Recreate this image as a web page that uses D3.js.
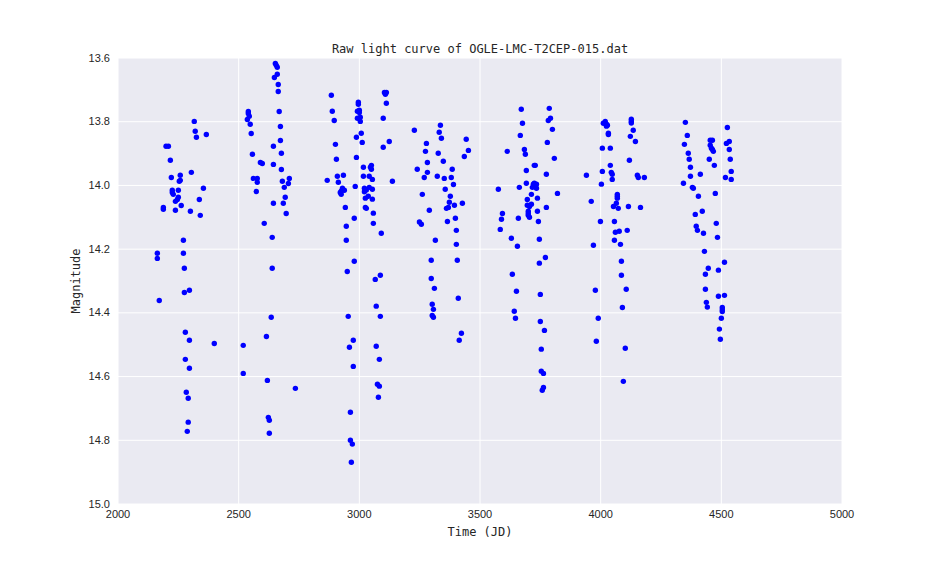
<!DOCTYPE html>
<html>
<head>
<meta charset="utf-8">
<script src="https://cdnjs.cloudflare.com/ajax/libs/d3/7.8.5/d3.min.js"></script>
<style>
  html, body { margin: 0; padding: 0; background: #fff; }
  svg { display: block; }
  .domain { display: none; }
  .tick text { font-family: "Liberation Sans", sans-serif; font-size: 11px; fill: #262626; }
  .label { font-family: "DejaVu Sans Mono", monospace; font-size: 12px; fill: #262626; }
</style>
</head>
<body>
<svg></svg>
<script>
var xTicks = [2000, 2500, 3000, 3500, 4000, 4500, 5000];
var yTicks = [13.6, 13.8, 14.0, 14.2, 14.4, 14.6, 14.8, 15.0];

// one season per line pair
var jd = [
  2316,2320,2366,2325,2199,2209,2217,2304,2258,2221,2258,2254,2354,2225,2250,2225,2229,2250,2246,2337,2238,2262,2188,2188,2238,2300,2341,
  2271,2163,2271,2163,2275,2296,2275,2171,2279,2296,2399,2279,2296,2283,2291,2291,2287,
  2540,2540,2544,2536,2548,2552,2557,2590,2598,2561,2577,2577,2573,2606,2519,2519,
  2668,2673,2673,2644,2677,2644,2677,2710,2681,2706,2689,2693,2644,2685,2697,2639,2639,2635,2615,2619,2735,2623,2627,2627,
  2652,2656,2660,2660,2648,2664,2664,
  2884,2888,2896,2901,2905,2934,2909,2867,2913,2930,2938,2925,2921,2925,2942,2946,2946,2979,2950,2954,2975,2959,2975,2963,2963,2971,2967,
  2996,2996,2992,3000,3000,2992,3004,3004,3008,2988,3012,2988,3017,3050,3046,3050,3017,3041,3054,2983,3021,3029,3041,3054,3021,3037,3025,3054,3025,3029,3058,2979,3058,3091,
  3104,3112,3108,3112,3099,3124,3099,3137,3087,3066,3070,3087,3070,3083,3075,3083,3079,
  3336,3331,3228,3340,3443,3452,3435,3278,3274,3327,3282,3348,3240,3385,3282,3269,3323,3352,3381,3390,3356,3261,3377,3373,3394,3427,3361,3369,3290,3398,3365,3249,3257,3402,3315,3402,
  3298,3406,3298,3311,3410,3302,3307,3302,3307,3423,3414,
  3671,3787,3676,3783,3792,3800,3667,3779,3613,3684,3688,3808,3725,3729,3692,3775,3692,3725,3734,3721,3717,3725,3734,3663,3576,3821,3713,3696,3738,3775,3696,3713,3705,3738,3700,3700,3705,3700,
  3593,3589,3659,3742,3584,3746,3630,3655,3771,3746,3634,3651,3750,3642,3647,3750,3767,3754,3754,3763,3763,3758,
  4011,4019,4024,4028,4024,4032,4032,4127,4127,4127,4135,4123,4144,4007,4040,4119,4040,4007,4044,4048,4048,3941,4152,4156,4181,4003,4069,4069,4069,4065,3961,4053,4073,4115,4165,
  3999,4057,4061,4077,4110,4057,4082,3970,4086,4086,3978,4106,4090,3990,3982,4102,4094,
  4351,4525,4359,4454,4463,4521,4533,4347,4454,4459,4463,4467,4533,4363,4367,4450,4537,4471,4372,4541,4372,4413,4517,4541,4343,4380,4384,4475,4405,4421,4392,4479,4396,4401,4426,4484,
  4430,4513,4446,4488,4434,4434,4513,4488,4438,4442,4504,4504,4504,4500,4492,4496
];
var mag = [
  13.799,13.830,13.840,13.849,13.877,13.877,13.921,13.959,13.968,13.975,13.984,13.987,14.009,14.015,14.015,14.022,14.028,14.037,14.044,14.044,14.050,14.063,14.069,14.075,14.078,14.081,14.094,
  14.172,14.213,14.213,14.229,14.260,14.329,14.336,14.361,14.461,14.486,14.496,14.546,14.574,14.649,14.668,14.743,14.772,
  13.768,13.774,13.783,13.793,13.808,13.837,13.902,13.928,13.931,13.978,13.978,13.990,14.019,14.119,14.502,14.590,
  13.768,13.815,13.859,13.877,13.899,13.934,13.950,13.978,13.987,13.994,14.006,14.037,14.056,14.056,14.088,14.163,14.260,14.414,14.474,14.612,14.637,14.728,14.737,14.778,
  13.617,13.623,13.629,13.651,13.661,13.683,13.705,
  13.717,13.767,13.796,13.871,13.918,13.968,13.971,13.984,13.990,14.009,14.015,14.018,14.022,14.028,14.069,14.128,14.172,14.238,14.270,14.411,14.486,14.508,14.568,14.712,14.800,14.812,14.869,
  13.739,13.745,13.767,13.764,13.771,13.789,13.786,13.799,13.836,13.849,13.865,13.912,13.943,13.937,13.943,13.949,13.971,13.971,13.981,14.003,14.009,14.014,14.006,14.012,14.020,14.034,14.040,14.043,14.069,14.072,14.087,14.103,14.119,14.150,
  13.708,13.708,13.714,13.742,13.789,13.862,13.880,13.987,14.282,14.295,14.379,14.411,14.505,14.546,14.624,14.630,14.665,
  13.811,13.833,13.827,13.852,13.855,13.890,13.909,13.868,13.893,13.899,13.928,13.924,13.949,13.949,13.959,13.975,13.971,13.978,13.975,13.997,14.012,14.028,14.034,14.053,14.062,14.056,14.072,14.069,14.078,14.103,14.113,14.115,14.122,14.141,14.172,14.185,
  14.235,14.235,14.292,14.323,14.354,14.373,14.389,14.408,14.414,14.464,14.486,
  13.761,13.758,13.805,13.796,13.789,13.824,13.843,13.865,13.893,13.887,13.902,13.915,13.937,13.937,13.953,13.965,13.993,13.993,13.996,13.996,14.006,14.003,14.009,14.006,14.012,14.025,14.028,14.044,14.040,14.069,14.062,14.059,14.066,14.081,14.081,14.088,14.100,14.094,
  14.088,14.106,14.103,14.113,14.138,14.169,14.166,14.191,14.226,14.244,14.279,14.332,14.342,14.395,14.417,14.427,14.455,14.514,14.583,14.590,14.634,14.643,
  13.805,13.799,13.808,13.811,13.814,13.836,13.840,13.792,13.799,13.804,13.827,13.846,13.862,13.883,13.883,13.921,13.937,13.956,13.959,13.965,13.981,13.968,13.968,13.975,13.975,13.996,14.028,14.034,14.040,14.056,14.050,14.066,14.072,14.066,14.069,
  14.113,14.113,14.147,14.144,14.141,14.172,14.185,14.188,14.238,14.282,14.329,14.326,14.383,14.417,14.489,14.511,14.615,
  13.802,13.818,13.843,13.858,13.858,13.868,13.862,13.871,13.874,13.883,13.887,13.893,13.887,13.899,13.918,13.918,13.918,13.937,13.943,13.956,13.971,13.965,13.975,13.981,13.993,14.006,14.009,14.025,14.034,14.081,14.091,14.119,14.128,14.141,14.150,14.163,
  14.207,14.241,14.260,14.266,14.279,14.326,14.345,14.348,14.367,14.382,14.383,14.390,14.396,14.417,14.451,14.483
];

var width = 936, height = 576;
var left = 118, right = 842, top_ = 58, bottom = 504;

var svg = d3.select('svg')
  .attr("width", width)
  .attr("height", height);

svg.append("rect")
  .attr("x", left)
  .attr("y", top_)
  .attr("width", right - left)
  .attr("height", bottom - top_)
  .attr("fill", "#EAEAF2");

var x = d3.scaleLinear().domain([2000, 5000]).range([left, right]);
var y = d3.scaleLinear().domain([13.6, 15.0]).range([top_, bottom]);

// ticks double as the white grid lines
var xAxis = svg.append("g")
  .attr("transform", `translate(0,${bottom})`)
  .call(d3.axisBottom(x).tickValues(xTicks).tickFormat(d3.format("d")).tickSize(-(bottom - top_)).tickPadding(6).offset(0));

var yAxis = svg.append("g")
  .attr("transform", `translate(${left},0)`)
  .call(d3.axisLeft(y).tickValues(yTicks).tickFormat(d3.format(".1f")).tickSize(-(right - left)).tickPadding(8).offset(0));

svg.selectAll(".tick line")
  .attr("stroke", "#fff")
  .attr("stroke-width", 1);

svg.selectAll("circle")
  .data(jd)
  .enter()
  .append("circle")
  .attr("cx", d => x(d))
  .attr("cy", (d, i) => y(mag[i]))
  .attr("r", 2.7)
  .attr("fill", "#0000ff");

svg.append("text")
  .attr("class", "label")
  .attr("x", (left + right) / 2)
  .attr("y", 53)
  .attr("text-anchor", "middle")
  .text("Raw light curve of OGLE-LMC-T2CEP-015.dat");

svg.append("text")
  .attr("class", "label")
  .attr("x", (left + right) / 2)
  .attr("y", 536)
  .attr("text-anchor", "middle")
  .text("Time (JD)");

svg.append("text")
  .attr("class", "label")
  .attr("transform", `translate(80,${(top_ + bottom) / 2}) rotate(-90)`)
  .attr("text-anchor", "middle")
  .text("Magnitude");
</script>
</body>
</html>
